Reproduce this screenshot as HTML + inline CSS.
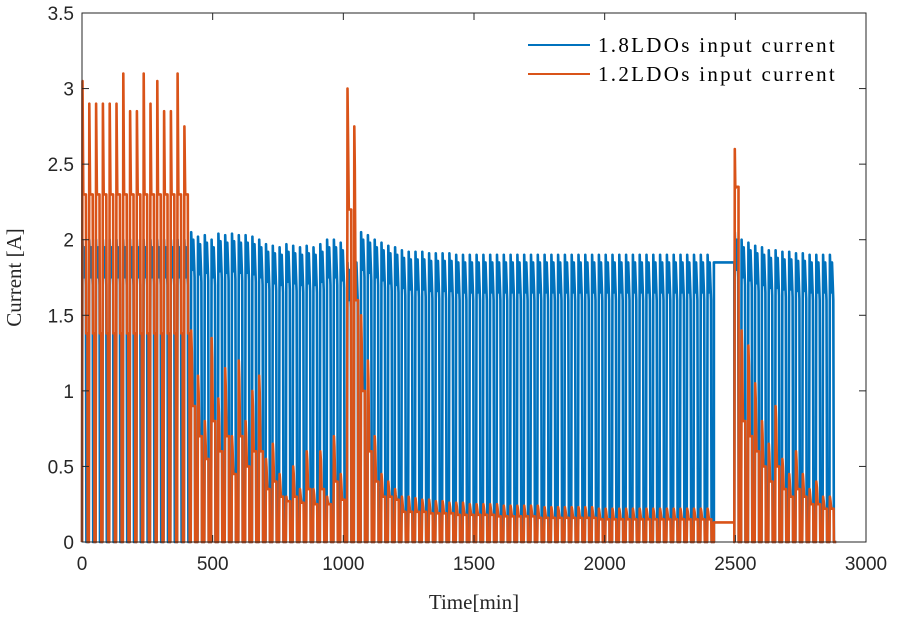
<!DOCTYPE html>
<html><head><meta charset="utf-8">
<style>
body{margin:0;background:#fff;}
svg{display:block;}
.tk{font-family:"Liberation Sans",sans-serif;font-size:19px;fill:#262626;}
.ttl{font-family:"Liberation Serif",serif;font-size:21px;fill:#262626;}
.lg{font-family:"Liberation Serif",serif;font-size:21px;fill:#000;letter-spacing:2.3px;}
</style></head>
<body>
<svg id="chart" width="897" height="617" xmlns="http://www.w3.org/2000/svg">
<rect width="897" height="617" fill="#fff"/>
<g id="series"></g>
<g id="axes"></g>
<g>
<rect x="520" y="30" width="336" height="62" fill="#fff"/>
<line x1="528" y1="45" x2="590" y2="45" stroke="#0072bd" stroke-width="2"/>
<text x="598" y="52" class="lg">1.8LDOs input current</text>
<line x1="528" y1="74" x2="590" y2="74" stroke="#d95319" stroke-width="2"/>
<text x="598" y="81" class="lg">1.2LDOs input current</text>
</g>
</svg>
<script>
const xTicks=[0,500,1000,1500,2000,2500,3000];
const yTicks=[0,0.5,1,1.5,2,2.5,3,3.5];
const yTickLabels=["0","0.5","1","1.5","2","2.5","3","3.5"];
const period=26;
const blueHigh=[2.0,2.0,2.0,2.0,2.0,2.0,2.0,2.0,2.0,2.0,2.0,2.0,2.0,2.0,2.0,2.0,
2.05,2.02,2.03,2.0,2.04,2.03,2.04,2.03,2.03,2.02,2.0,1.97,1.96,1.95,1.97,1.96,1.95,1.96,1.95,1.97,2.0,2.0,1.98,
1.85,1.9,
2.05,2.03,2.0,1.98,1.96,1.95,
1.93,1.92,1.92,1.92,1.91,1.91,1.91,1.91,1.9,1.9,1.9,1.9,1.9,1.9,1.9,1.9,1.9,1.9,1.9,1.9,1.9,1.9,1.9,1.9,1.9,1.9,1.9,1.9,1.9,1.9,1.9,1.9,1.9,1.9,1.9,1.9,1.9,1.9,1.9,1.9,1.9,1.9,1.9,1.9,1.9,1.9,
1.85,1.85,1.85,
2.05,
2.0,1.98,1.96,1.95,1.93,1.93,1.92,1.92,1.91,1.91,1.9,1.9,1.9,1.9];
const orangePeak=[3.05,2.9,2.9,2.9,2.9,2.9,3.1,2.85,2.85,3.1,2.9,3.05,2.85,2.85,3.1,2.75,
1.4,1.1,0.8,1.35,0.95,1.15,0.7,1.2,0.8,1.0,1.1,0.55,0.65,0.45,0.3,0.5,0.35,0.6,0.35,0.6,0.3,0.7,0.45,
3.0,2.75,
1.5,1.2,0.7,0.45,0.4,0.35,
0.3,0.3,0.29,0.28,0.28,0.27,0.27,0.26,0.26,0.26,0.25,0.25,0.25,0.25,0.25,0.24,0.24,0.24,0.24,0.24,0.24,0.23,0.23,0.23,0.23,0.23,0.23,0.23,0.23,0.22,0.22,0.22,0.22,0.22,0.22,0.22,0.22,0.22,0.22,0.22,0.22,0.22,0.22,0.22,0.22,0.22,
0.13,0.13,0.13,
2.6,
1.4,1.3,1.05,0.8,0.65,0.9,0.55,0.45,0.6,0.45,0.35,0.4,0.3,0.3];
const orangeLevel=[2.3,2.3,2.3,2.3,2.3,2.3,2.3,2.3,2.3,2.3,2.3,2.3,2.3,2.3,2.3,2.3,
0.9,0.7,0.55,0.8,0.6,0.7,0.45,0.7,0.5,0.6,0.6,0.35,0.4,0.3,0.27,0.3,0.26,0.35,0.25,0.35,0.25,0.4,0.28,
2.2,1.6,
1.0,0.6,0.4,0.3,0.3,0.28,
0.2,0.2,0.2,0.2,0.19,0.19,0.19,0.19,0.18,0.18,0.18,0.18,0.18,0.18,0.17,0.17,0.17,0.17,0.17,0.17,0.16,0.16,0.16,0.16,0.16,0.16,0.16,0.16,0.16,0.15,0.15,0.15,0.15,0.15,0.15,0.15,0.15,0.15,0.15,0.15,0.15,0.15,0.15,0.15,0.15,0.15,
0.13,0.13,0.13,
2.35,
0.8,0.7,0.6,0.5,0.4,0.5,0.35,0.3,0.35,0.3,0.25,0.25,0.22,0.22];
const orangeStep=[1.38,1.38,1.38,1.38,1.38,1.38,1.38,1.38,1.38,1.38,1.38,1.38,1.38,1.38,1.38,1.38];
const flatCycles=[93,94,95];

const X0=82,X1=866,Y0=542,Y1=13;
const xs=v=>X0+(v/3000)*(X1-X0);
const ys=v=>Y0-(v/3.5)*(Y0-Y1);
const NS="http://www.w3.org/2000/svg";
const series=document.getElementById('series');
const axes=document.getElementById('axes');

let bp=[],op=[];
for(let i=0;i<blueHigh.length;i++){
  const t=i*period;
  const h=blueHigh[i];
  if(flatCycles.includes(i)){
    bp.push([t,h],[t+period,h]);
    op.push([t,orangePeak[i]],[t+period,orangeLevel[i]]);
    continue;
  }
  bp.push([t,0],[t+2,h],[t+6,h-0.25],[t+10,h-0.05],[t+15,h-0.3],[t+17,0],[t+period,0]);
  const st=i<orangeStep.length?orangeStep[i]:null;
  if(st!==null){
    op.push([t,0],[t+2,orangePeak[i]],[t+5,orangeLevel[i]],[t+15,orangeLevel[i]],[t+16,st],[t+21,st],[t+22,0],[t+period,0]);
  } else {
    op.push([t,0],[t+2,orangePeak[i]],[t+4,orangePeak[i]*0.9],[t+7,orangeLevel[i]],[t+16,orangeLevel[i]],[t+17,0],[t+period,0]);
  }
}
function mk(pts,col,name){
  const p=document.createElementNS(NS,'polyline');
  p.setAttribute('points',pts.filter(a=>a[0]<=2890).map(a=>xs(a[0]).toFixed(1)+','+ys(a[1]).toFixed(1)).join(' '));
  p.setAttribute('fill','none');p.setAttribute('stroke',col);p.setAttribute('stroke-width','2.6');
  p.setAttribute('stroke-linejoin','round');
  
  
  series.appendChild(p);
}
mk(bp,'#0072bd','series-1p8-ldo');
mk(op,'#d95319','series-1p2-ldo');

function el(tag,attrs){const e=document.createElementNS(NS,tag);for(const k in attrs)e.setAttribute(k,attrs[k]);axes.appendChild(e);return e;}
const frame=el('rect',{x:X0,y:Y1,width:X1-X0,height:Y0-Y1,fill:'none',stroke:'#262626','stroke-width':1});


xTicks.forEach(v=>{
  const x=xs(v);
  const a=el('line',{x1:x,y1:Y0,x2:x,y2:Y0-7,stroke:'#262626'});
  
  
  const b=el('line',{x1:x,y1:Y1,x2:x,y2:Y1+7,stroke:'#262626'});
  
  
  const t=el('text',{x:x,y:Y0+28,'text-anchor':'middle',class:'tk'});t.textContent=v;
  
  
});
yTicks.forEach((v,i)=>{
  const y=ys(v);
  const a=el('line',{x1:X0,y1:y,x2:X0+7,y2:y,stroke:'#262626'});
  
  
  const b=el('line',{x1:X1,y1:y,x2:X1-7,y2:y,stroke:'#262626'});
  
  
  const t=el('text',{x:X0-8,y:y+7,'text-anchor':'end',class:'tk'});t.textContent=yTickLabels[i];
  
  
});
const xt=el('text',{x:(X0+X1)/2,y:609,'text-anchor':'middle',class:'ttl'});xt.textContent='Time[min]';


const yt=el('text',{x:0,y:0,'text-anchor':'middle',class:'ttl',transform:'translate(21,'+((Y0+Y1)/2)+') rotate(-90)'});yt.textContent='Current [A]';


</script>
</body></html>
